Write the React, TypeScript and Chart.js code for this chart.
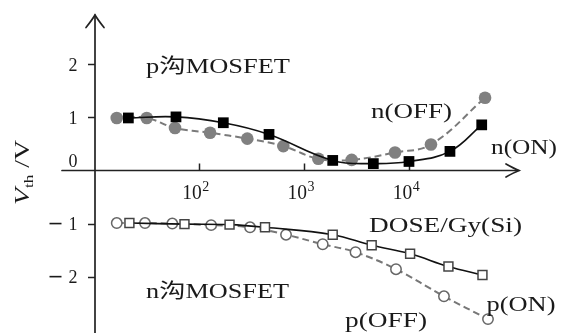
import { useEffect, useRef } from 'react';
import { Chart, registerables } from 'chart.js';
Chart.register(...registerables);

// ---- data ----
const nOnDose = [21.4, 60.7, 171, 465, 1875, 4560, 9950, 24400, 48900];
const nOnVth = [0.99, 1.01, 0.9, 0.68, 0.19, 0.13, 0.17, 0.36, 0.86];
const nOffDose = [16.6, 32, 59.4, 128, 289, 636, 1368, 2840, 7330, 16100, 52600];
const nOffVth = [0.99, 0.99, 0.8, 0.71, 0.6, 0.46, 0.22, 0.2, 0.34, 0.49, 1.37];
const pOnDose = [21.9, 73.1, 196, 426, 1875, 4400, 10200, 23600, 49700];
const pOnVth = [-0.99, -1.01, -1.02, -1.07, -1.21, -1.41, -1.57, -1.81, -1.97];
const pOffDose = [16.6, 30.8, 56, 131, 307, 675, 1506, 3090, 7490, 21400, 56100];
const pOffVth = [-0.99, -0.99, -1.0, -1.03, -1.07, -1.21, -1.39, -1.54, -1.86, -2.37, -2.8];

const yTickValues = [2, 1, 0, -1, -2];
const yTickLabels = ['2', '1', '0', '−1', '−2'];
const xTickValues = [100, 1000, 10000];
const xTickExponents = ['2', '3', '4'];

const xTitle = 'DOSE/Gy(Si)';
const groupLabels = ['p沟MOSFET', 'n沟MOSFET'];
const seriesNames = ['n(ON)', 'n(OFF)', 'p(ON)', 'p(OFF)'];

const X_MIN = Math.pow(10, 1.0133);
const X_MAX = Math.pow(10, 5.0437);
const Y_MIN = -2.915;
const Y_MAX = 2.93;

const SERIF = '"Liberation Serif", "Noto Sans CJK SC", serif';
const INK = '#1a1a1a';

function pts(xs: number[], ys: number[]) {
  return xs.map((x, i) => ({ x, y: ys[i] }));
}

function drawFitted(ctx: CanvasRenderingContext2D, text: string, x: number, baseline: number, font: string, width: number) {
  ctx.font = font;
  const w = ctx.measureText(text).width;
  ctx.save();
  ctx.translate(x, baseline);
  ctx.scale(width / w, 1);
  ctx.textAlign = 'left';
  ctx.textBaseline = 'alphabetic';
  ctx.fillText(text, 0, 0);
  ctx.restore();
}

const axesPlugin = {
  id: 'customAxes',
  beforeDatasetsDraw(chart: any) {
    const { ctx, chartArea, scales } = chart;
    const xs = scales.x;
    const ys = scales.y;
    const ax = chartArea.left;
    const ay = ys.getPixelForValue(0);
    ctx.save();
    ctx.strokeStyle = '#222';
    ctx.lineWidth = 1.7;
    ctx.lineCap = 'round';
    // x axis
    ctx.beginPath();
    ctx.moveTo(62, ay);
    ctx.lineTo(chartArea.right, ay);
    ctx.stroke();
    ctx.beginPath();
    ctx.moveTo(chartArea.right - 13, ay - 6.5);
    ctx.quadraticCurveTo(chartArea.right - 5, ay - 2, chartArea.right, ay);
    ctx.quadraticCurveTo(chartArea.right - 5, ay + 2, chartArea.right - 13, ay + 6.5);
    ctx.stroke();
    // y axis
    ctx.beginPath();
    ctx.moveTo(ax, chart.height);
    ctx.lineTo(ax, chartArea.top);
    ctx.stroke();
    ctx.beginPath();
    ctx.moveTo(ax - 9, chartArea.top + 12.5);
    ctx.quadraticCurveTo(ax - 3, chartArea.top + 5, ax, chartArea.top);
    ctx.quadraticCurveTo(ax + 3, chartArea.top + 5, ax + 9, chartArea.top + 12.5);
    ctx.stroke();
    // ticks
    ctx.lineWidth = 1.5;
    ctx.lineCap = 'butt';
    yTickValues.forEach((v) => {
      if (v === 0) return;
      const py = Math.round(ys.getPixelForValue(v)) + 0.5;
      ctx.beginPath();
      ctx.moveTo(ax - 7, py);
      ctx.lineTo(ax, py);
      ctx.stroke();
    });
    xTickValues.forEach((v) => {
      const px = Math.round(xs.getPixelForValue(v)) + 0.5;
      ctx.beginPath();
      ctx.moveTo(px, ay - 7);
      ctx.lineTo(px, ay);
      ctx.stroke();
    });
    ctx.restore();
  },
  afterDraw(chart: any) {
    const { ctx, chartArea, scales } = chart;
    const xs = scales.x;
    const ys = scales.y;
    const ax = chartArea.left;
    ctx.save();
    ctx.fillStyle = INK;
    // y tick labels
    yTickValues.forEach((v, i) => {
      const label = yTickLabels[i];
      const py = ys.getPixelForValue(v);
      const base = v === 0 ? py - 3.5 : py + 6.5;
      ctx.font = `18px ${SERIF}`;
      ctx.textBaseline = 'alphabetic';
      ctx.textAlign = 'right';
      const digits = label.replace('−', '');
      ctx.fillText(digits, ax - 17.5, base);
      if (label.startsWith('−')) {
        ctx.fillRect(ax - 45.5, py - 0.8, 12, 1.6);
      }
    });
    // x tick labels 10^n
    xTickValues.forEach((v, i) => {
      const px = xs.getPixelForValue(v);
      const base = ys.getPixelForValue(0) + 29;
      drawFitted(ctx, '10', px - 16.5, base, `20px ${SERIF}`, 19.5);
      ctx.font = `14px ${SERIF}`;
      ctx.textAlign = 'left';
      ctx.fillText(xTickExponents[i], px + 3.5, base - 8);
    });
    // annotation texts
    const f20 = `20px ${SERIF}`;
    drawFitted(ctx, groupLabels[0], 146, 72.5, f20, 144);
    drawFitted(ctx, groupLabels[1], 146, 298.3, f20, 143);
    drawFitted(ctx, seriesNames[1], 371, 118.3, f20, 81);
    drawFitted(ctx, seriesNames[0], 491, 154.3, f20, 66);
    drawFitted(ctx, seriesNames[2], 486.5, 311, f20, 69);
    drawFitted(ctx, seriesNames[3], 345, 326.7, f20, 82);
    drawFitted(ctx, xTitle, 369, 231.7, f20, 153);
    // y title: V_th / V rotated
    ctx.save();
    ctx.translate(28.5, 205);
    ctx.rotate(-Math.PI / 2);
    const parts = [
      { t: 'V', f: `italic 21px ${SERIF}`, dy: 0 },
      { t: 'th', f: `13px ${SERIF}`, dy: 4.5 },
      { t: ' /', f: `21px ${SERIF}`, dy: 0 },
      { t: 'V', f: `21px ${SERIF}`, dy: 0 },
    ];
    let total = 0;
    const widths = parts.map((p) => {
      ctx.font = p.f;
      const w = ctx.measureText(p.t).width;
      total += w;
      return w;
    });
    const sx = 65 / total;
    ctx.scale(sx, 1);
    ctx.textAlign = 'left';
    ctx.textBaseline = 'alphabetic';
    let cx = 0;
    parts.forEach((p, i) => {
      ctx.font = p.f;
      ctx.fillText(p.t, cx, p.dy);
      cx += widths[i];
    });
    ctx.restore();
    ctx.restore();
  },
};

export default function App() {
  const ref = useRef<HTMLCanvasElement | null>(null);
  useEffect(() => {
    document.body.style.margin = '0';
    if (!ref.current) return;
    const chart = new Chart(ref.current, {
      type: 'line',
      data: {
        datasets: [
          {
            label: seriesNames[0],
            data: pts(nOnDose, nOnVth),
            borderColor: '#111',
            borderWidth: 1.6,
            pointStyle: 'rect',
            pointRadius: 7.6,
            pointBackgroundColor: '#000',
            pointBorderColor: '#000',
            pointBorderWidth: 0,
            tension: 0.4,
            fill: false,
            clip: false,
          },
          {
            label: seriesNames[1],
            data: pts(nOffDose, nOffVth),
            borderColor: '#7a7a7a',
            borderDash: [7, 4],
            borderWidth: 2,
            pointStyle: 'circle',
            pointRadius: 6.3,
            pointBackgroundColor: '#808080',
            pointBorderColor: '#808080',
            pointBorderWidth: 0,
            tension: 0.4,
            fill: false,
            clip: false,
          },
          {
            label: seriesNames[2],
            data: pts(pOnDose, pOnVth),
            borderColor: '#111',
            borderWidth: 1.6,
            pointStyle: 'rect',
            pointRadius: 6.3,
            pointBackgroundColor: '#fff',
            pointBorderColor: '#444',
            pointBorderWidth: 1.5,
            tension: 0.4,
            fill: false,
            clip: false,
          },
          {
            label: seriesNames[3],
            data: pts(pOffDose, pOffVth),
            borderColor: '#777',
            borderDash: [7, 4],
            borderWidth: 2,
            pointStyle: 'circle',
            pointRadius: 5.2,
            pointBackgroundColor: '#fff',
            pointBorderColor: '#666',
            pointBorderWidth: 1.5,
            tension: 0.4,
            fill: false,
            clip: false,
          },
        ],
      },
      options: {
        animation: false,
        responsive: true,
        maintainAspectRatio: false,
        layout: { padding: { left: 95, right: 42, top: 15, bottom: 0 } },
        plugins: { legend: { display: false }, tooltip: { enabled: false } },
        events: [],
        scales: {
          x: { type: 'logarithmic', min: X_MIN, max: X_MAX, display: false },
          y: { type: 'linear', min: Y_MIN, max: Y_MAX, display: false },
        },
      },
      plugins: [axesPlugin],
    });
    return () => chart.destroy();
  }, []);
  return (
    <div style={{ position: 'relative', width: 561, height: 333, background: '#fff' }}>
      <canvas ref={ref} />
    </div>
  );
}
